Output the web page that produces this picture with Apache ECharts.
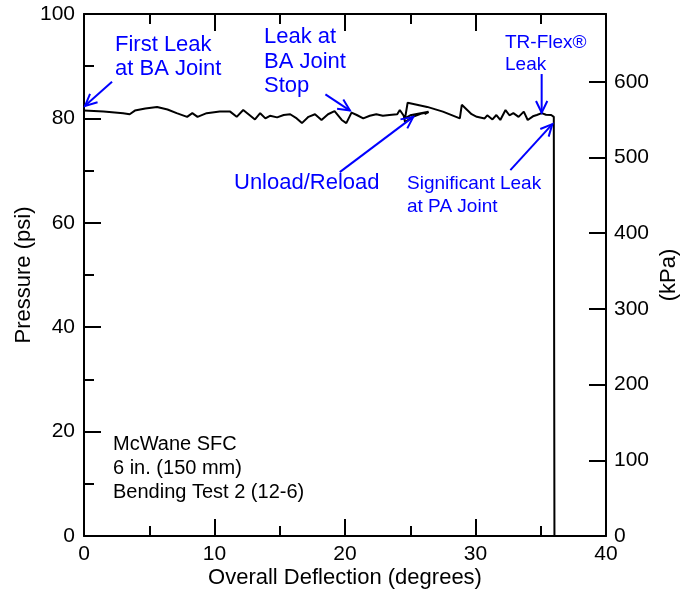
<!DOCTYPE html>
<html>
<head>
<meta charset="utf-8">
<script src="https://cdn.jsdelivr.net/npm/echarts@6/dist/echarts.min.js"></script>
<style>
  html, body { margin: 0; padding: 0; background: #fff; }
  #chart { width: 680px; height: 596px; }
</style>
</head>
<body>
<div id="chart"></div>
<script>
// Overall deflection (degrees) and internal pressure (psi) of the bending test record
const deflection = [
  0, 1.5, 3.0, 3.5, 3.9, 4.7, 5.0, 5.6, 6.4, 7.1, 7.9, 8.3, 8.7, 9.4, 10.4, 11.2, 11.7, 12.2, 12.7,
  13.1, 13.5, 13.9, 14.25, 14.8, 15.3, 15.8, 16.3, 16.7, 17.2, 17.7, 18.2, 18.7, 19.2, 19.75, 20.1,
  20.5, 20.9, 21.4, 21.9, 22.4, 22.9, 23.4, 24.0, 24.2, 24.5,
  // unload / reload loop
  24.6, 25.2, 25.8, 26.4, 26.1, 26.4, 25.0, 24.6,
  24.8, 26.3, 27.5, 28.8, 28.95, 29.7, 30.1, 30.7, 30.9, 31.3, 31.6, 31.9, 32.3, 32.6, 32.9, 33.3,
  33.7, 34.0, 34.4, 34.7, 35.07, 35.4, 35.8, 36.0, 36.05
];
const pressure = [
  81.5, 81.3, 81.0, 80.8, 81.5, 81.9, 82.0, 82.2, 81.7, 81.0, 80.3, 81.0, 80.3, 81.0, 81.3, 81.3, 80.3, 81.6, 80.6,
  79.8, 81.0, 80.0, 80.5, 80.2, 80.65, 80.8, 80.0, 79.1, 80.3, 80.8, 79.7, 80.8, 81.4, 79.7, 79.1,
  81.1, 80.65, 80.0, 80.5, 80.8, 80.5, 80.65, 80.8, 81.6, 80.5,
  79.3, 80.3, 80.9, 81.2, 80.8, 81.3, 80.6, 80.0,
  83.0, 82.2, 81.3, 80.0, 82.6, 80.8, 80.3, 80.0, 80.6, 79.8, 80.65, 79.7, 81.6, 80.6, 81.0, 80.3,
  81.3, 79.7, 80.4, 80.65, 81.0, 80.7, 80.65, 80.3, 0
];

// Axis tick values
const psiTicks = [0, 20, 40, 60, 80, 100];
const kpaTicks = [0, 100, 200, 300, 400, 500, 600];
const degTicks = [0, 10, 20, 30, 40];

const PSI_TO_KPA = 6.894757;

// Annotation arrows: [tailDeg, tailPsi, tipDeg, tipPsi]
const arrows = [
  [2.15, 87.0, 0.08, 82.4],     // First Leak at BA Joint
  [18.5, 84.6, 20.38, 81.5],    // Leak at BA Joint Stop
  [19.6, 69.7, 25.23, 80.3],    // Unload/Reload
  [35.07, 88.5, 35.07, 81.1],   // TR-Flex Leak
  [32.67, 70.1, 35.89, 78.9]    // Significant Leak at PA Joint
];

const FONT = '"Liberation Sans", Arial, Helvetica, sans-serif';
const BLUE = '#0000ff';

const chart = echarts.init(document.getElementById('chart'), null, { renderer: 'canvas' });

const axisCommon = {
  axisLine: { show: true, onZero: false, lineStyle: { color: '#000', width: 2 } },
  axisTick: { show: true, inside: true, length: 17, lineStyle: { color: '#000', width: 2 } },
  splitLine: { show: false },
  minorSplitLine: { show: false },
  nameMoveOverlap: false
};

const labelStyle = { color: '#000', fontSize: 21, fontFamily: FONT };
const nameStyle = { color: '#000', fontSize: 22, fontFamily: FONT };

chart.setOption({
  animation: false,
  backgroundColor: '#fff',
  grid: { left: 84, right: 74, top: 14, bottom: 60, containLabel: false, outerBoundsMode: 'none' },
  xAxis: [
    Object.assign({}, axisCommon, {
      type: 'value', position: 'bottom', min: degTicks[0], max: degTicks[degTicks.length - 1], interval: 10,
      minorTick: { show: true, splitNumber: 2, length: 10, lineStyle: { color: '#000', width: 2 } },
      axisLabel: Object.assign({ margin: 8 }, labelStyle),
      name: 'Overall Deflection (degrees)', nameLocation: 'middle', nameGap: 31,
      nameTextStyle: nameStyle
    }),
    Object.assign({}, axisCommon, {
      type: 'value', position: 'top', min: 0, max: 40, interval: 10,
      minorTick: { show: true, splitNumber: 2, length: 10, lineStyle: { color: '#000', width: 2 } },
      axisLabel: { show: false }
    })
  ],
  yAxis: [
    Object.assign({}, axisCommon, {
      type: 'value', position: 'left', min: psiTicks[0], max: psiTicks[psiTicks.length - 1], interval: 20,
      minorTick: { show: true, splitNumber: 2, length: 10, lineStyle: { color: '#000', width: 2 } },
      axisLabel: Object.assign({ margin: 9 }, labelStyle),
      name: 'Pressure (psi)', nameLocation: 'middle', nameGap: 49, nameRotate: 90,
      nameTextStyle: nameStyle
    }),
    Object.assign({}, axisCommon, {
      type: 'value', position: 'right', min: 0, max: 100 * PSI_TO_KPA, interval: 100,
      minorTick: { show: false },
      axisLabel: Object.assign({
        margin: 8,
        formatter: v => kpaTicks.indexOf(Math.round(v)) >= 0 && Math.abs(v - Math.round(v)) < 1e-6 ? String(Math.round(v)) : ''
      }, labelStyle),
      name: '(kPa)', nameLocation: 'middle', nameGap: 52, nameRotate: 90,
      nameTextStyle: nameStyle
    })
  ],
  series: [{
    type: 'line',
    xAxisIndex: 0,
    yAxisIndex: 0,
    data: deflection.map((d, i) => [d, pressure[i]]),
    showSymbol: false,
    symbol: 'none',
    lineStyle: { color: '#000', width: 2 },
    z: 5
  }]
});

// Arrow shafts and open heads, placed from data coordinates
function arrowShapes(a) {
  const tail = chart.convertToPixel({ gridIndex: 0 }, [a[0], a[1]]);
  const tip = chart.convertToPixel({ gridIndex: 0 }, [a[2], a[3]]);
  const ang = Math.atan2(tip[1] - tail[1], tip[0] - tail[0]);
  const len = 13, spread = 0.45;
  const h1 = [tip[0] - len * Math.cos(ang - spread), tip[1] - len * Math.sin(ang - spread)];
  const h2 = [tip[0] - len * Math.cos(ang + spread), tip[1] - len * Math.sin(ang + spread)];
  const style = { stroke: BLUE, lineWidth: 2, fill: null };
  return [
    { type: 'polyline', shape: { points: [tail, tip] }, style: style, z: 10 },
    { type: 'polyline', shape: { points: [h1, tip, h2] }, style: style, z: 10 }
  ];
}

function textEl(x, y, text, size, lh, color) {
  return {
    type: 'text', x: x, y: y, z: 10,
    style: { text: text, fill: color, font: size + 'px ' + FONT, lineHeight: lh, textVerticalAlign: 'top' }
  };
}

const graphics = [];
arrows.forEach(a => graphics.push.apply(graphics, arrowShapes(a)));
graphics.push(textEl(115, 33, 'First Leak\nat BA Joint', 22, 24, BLUE));
graphics.push(textEl(264, 25, 'Leak at\nBA Joint\nStop', 22, 24.5, BLUE));
graphics.push(textEl(234, 171, 'Unload/Reload', 22, 24, BLUE));
graphics.push(textEl(505, 32, 'TR-Flex®\nLeak', 19, 22, BLUE));
graphics.push(textEl(407, 172, 'Significant Leak\nat PA Joint', 19, 23, BLUE));
graphics.push(textEl(113, 432, 'McWane SFC\n6 in. (150 mm)\nBending Test 2 (12-6)', 20, 24, '#000'));

chart.setOption({ graphic: { elements: graphics } });
</script>
</body>
</html>
